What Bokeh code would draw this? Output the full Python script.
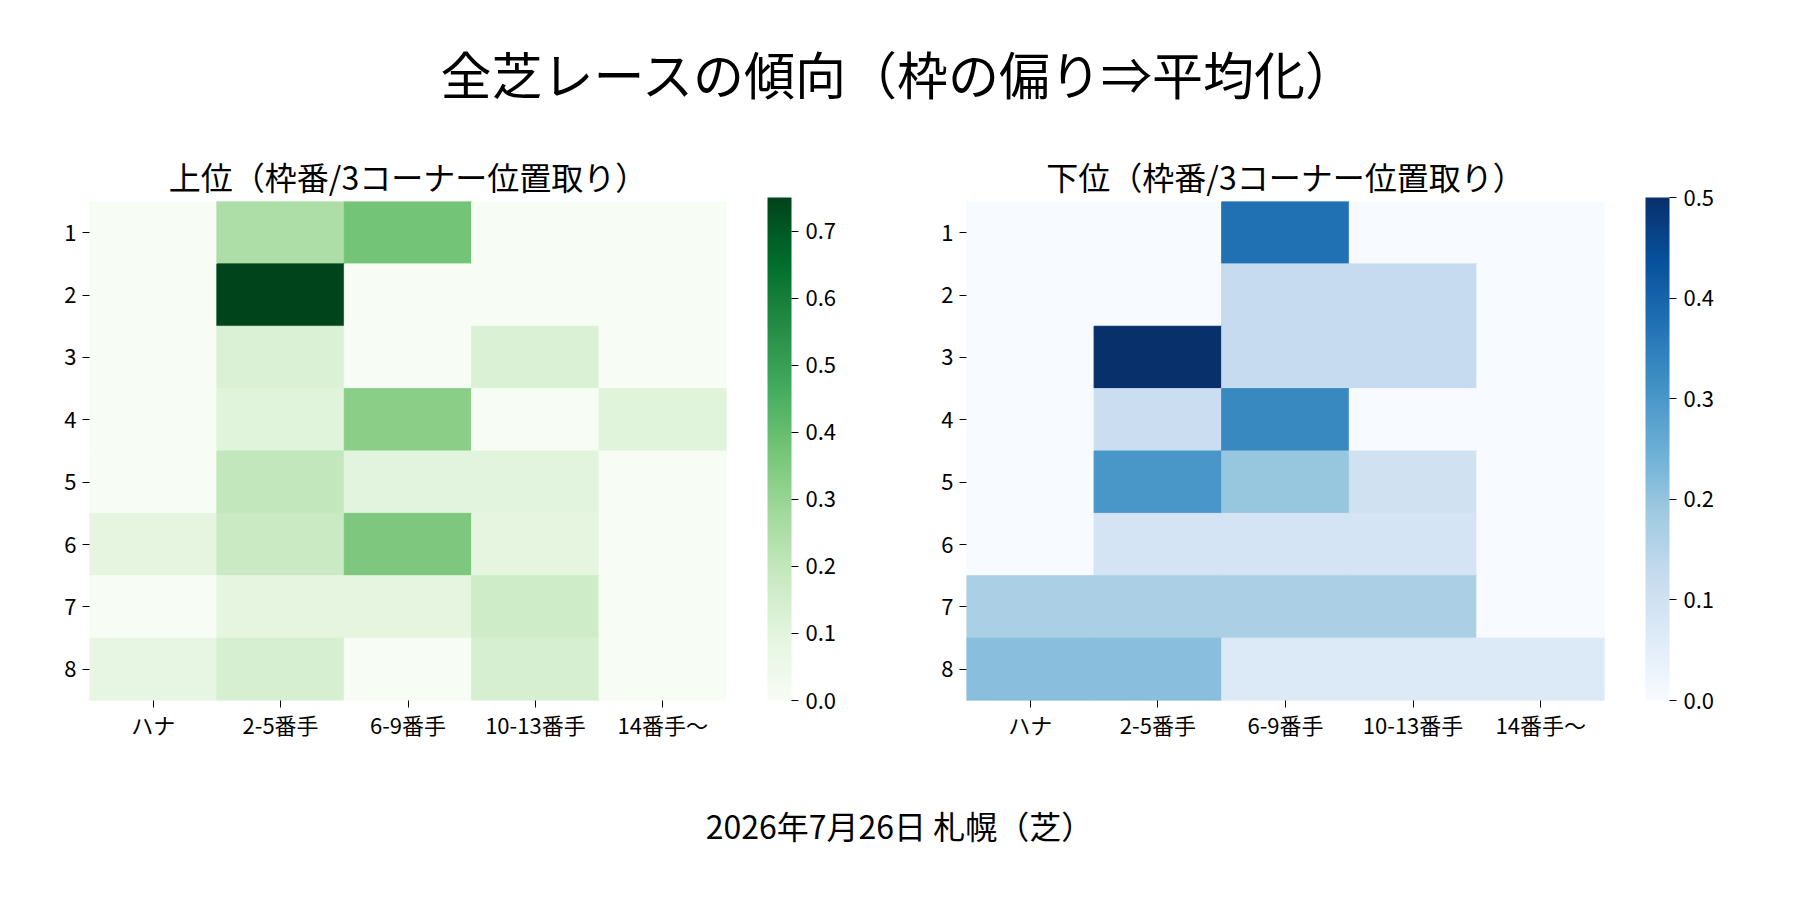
from bokeh.plotting import figure
from bokeh.models import (ColumnDataSource, LinearColorMapper, ColorBar, FixedTicker,
                          PrintfTickFormatter, FactorRange, Range1d, Label)
from bokeh.layouts import column, row
from bokeh.transform import transform
from bokeh.palettes import Greens9, Blues9
from bokeh.embed import file_html
from bokeh.resources import INLINE

FONT = "Noto Sans CJK JP"

# ---- data ----
suptitle = "全芝レースの傾向（枠の偏り⇒平均化）"
caption = "2026年7月26日 札幌（芝）"
title_top = "上位（枠番/3コーナー位置取り）"
title_bottom = "下位（枠番/3コーナー位置取り）"
positions = ["ハナ", "2-5番手", "6-9番手", "10-13番手", "14番手～"]
gates = ["1", "2", "3", "4", "5", "6", "7", "8"]

top_values = [
    [0.00, 0.25, 0.375, 0.00, 0.00],
    [0.00, 0.75, 0.00, 0.00, 0.00],
    [0.00, 0.125, 0.00, 0.125, 0.00],
    [0.00, 0.11, 0.33, 0.00, 0.11],
    [0.00, 0.197, 0.105, 0.105, 0.00],
    [0.095, 0.184, 0.356, 0.094, 0.00],
    [0.00, 0.094, 0.094, 0.163, 0.00],
    [0.086, 0.143, 0.00, 0.143, 0.00],
]
bottom_values = [
    [0.00, 0.00, 0.375, 0.00, 0.00],
    [0.00, 0.00, 0.125, 0.125, 0.00],
    [0.00, 0.50, 0.125, 0.125, 0.00],
    [0.00, 0.112, 0.33, 0.00, 0.00],
    [0.00, 0.302, 0.196, 0.099, 0.00],
    [0.00, 0.089, 0.089, 0.089, 0.00],
    [0.167, 0.167, 0.167, 0.167, 0.00],
    [0.213, 0.213, 0.07, 0.07, 0.07],
]
top_vmax = 0.75
bottom_vmax = 0.5
top_ticks = [0.0, 0.1, 0.2, 0.3, 0.4, 0.5, 0.6, 0.7]
bottom_ticks = [0.0, 0.1, 0.2, 0.3, 0.4, 0.5]


def interp_palette(anchors, n=256):
    """Linear interpolation of light->dark anchor colours (like matplotlib's cmap)."""
    rgb = [tuple(int(h[i:i + 2], 16) for i in (1, 3, 5)) for h in anchors]
    out = []
    m = len(rgb) - 1
    for k in range(n):
        t = k / (n - 1) * m
        i = min(int(t), m - 1)
        f = t - i
        c = [round(rgb[i][j] + (rgb[i + 1][j] - rgb[i][j]) * f) for j in range(3)]
        out.append("#%02x%02x%02x" % tuple(c))
    return out


def heatmap(values, title, anchors, vmax, ticks, width, min_left, min_right):
    xs, ys, vs = [], [], []
    for g, rowvals in zip(gates, values):
        for pos, v in zip(positions, rowvals):
            xs.append(pos)
            ys.append(g)
            vs.append(v)
    src = ColumnDataSource(dict(pos=xs, gate=ys, v=vs))
    mapper = LinearColorMapper(palette=interp_palette(anchors), low=0, high=vmax)
    p = figure(width=width, height=620,
               x_range=FactorRange(*positions), y_range=FactorRange(*gates[::-1]),
               output_backend="svg", toolbar_location=None,
               min_border_left=min_left, min_border_right=min_right,
               min_border_top=50, min_border_bottom=67, title=title)
    p.rect(x="pos", y="gate", width=1, height=1, source=src,
           fill_color=transform("v", mapper), line_color=transform("v", mapper), line_width=1)
    p.title.text_font = FONT
    p.title.text_font_size = "32px"
    p.title.text_font_style = "normal"
    p.title.text_color = "black"
    p.title.align = "center"
    p.title.standoff = 6
    p.outline_line_color = None
    p.grid.visible = False
    for ax in (p.xaxis[0], p.yaxis[0]):
        ax.axis_line_color = None
        ax.major_tick_in = 0
        ax.major_tick_out = 7
        ax.major_tick_line_color = "black"
        ax.minor_tick_line_color = None
        ax.major_label_text_font = FONT
        ax.major_label_text_font_size = "22px"
        ax.major_label_text_color = "black"
    p.yaxis.major_label_standoff = 6
    p.xaxis.major_label_standoff = 0
    cb = ColorBar(color_mapper=mapper, ticker=FixedTicker(ticks=ticks),
                  formatter=PrintfTickFormatter(format="%.1f"),
                  width=24, height=503, margin=0, padding=0, location=(41, 0),
                  major_tick_in=0, major_tick_out=7, major_tick_line_color="black",
                  minor_tick_line_color=None, bar_line_color=None,
                  label_standoff=7, major_label_text_font=FONT,
                  major_label_text_font_size="22px", major_label_text_color="black",
                  background_fill_color=None, border_line_color=None)
    p.add_layout(cb, "right")
    return p


def text_fig(height, txt, ymid, size):
    p = figure(width=1784, height=height, x_range=Range1d(0, 1784), y_range=Range1d(height, 0),
               x_axis_type=None, y_axis_type=None, output_backend="svg", toolbar_location=None,
               min_border=0, outline_line_color=None)
    p.grid.visible = False
    p.add_layout(Label(x=899, y=ymid, text=txt, text_align="center", text_baseline="middle",
                       text_font=FONT, text_font_size=size, text_color="black"))
    return p


top = text_fig(147, suptitle, 72, "51px")
left = heatmap(top_values, title_top, Greens9[::-1], top_vmax, top_ticks, 880, 89, 154)
right = heatmap(bottom_values, title_bottom, Blues9[::-1], bottom_vmax, bottom_ticks, 904, 86, 180)
bottom = text_fig(117, caption, 57, "32px")

layout = column(top, row(left, right), bottom)
open("out.html", "w").write(file_html(layout, INLINE))
